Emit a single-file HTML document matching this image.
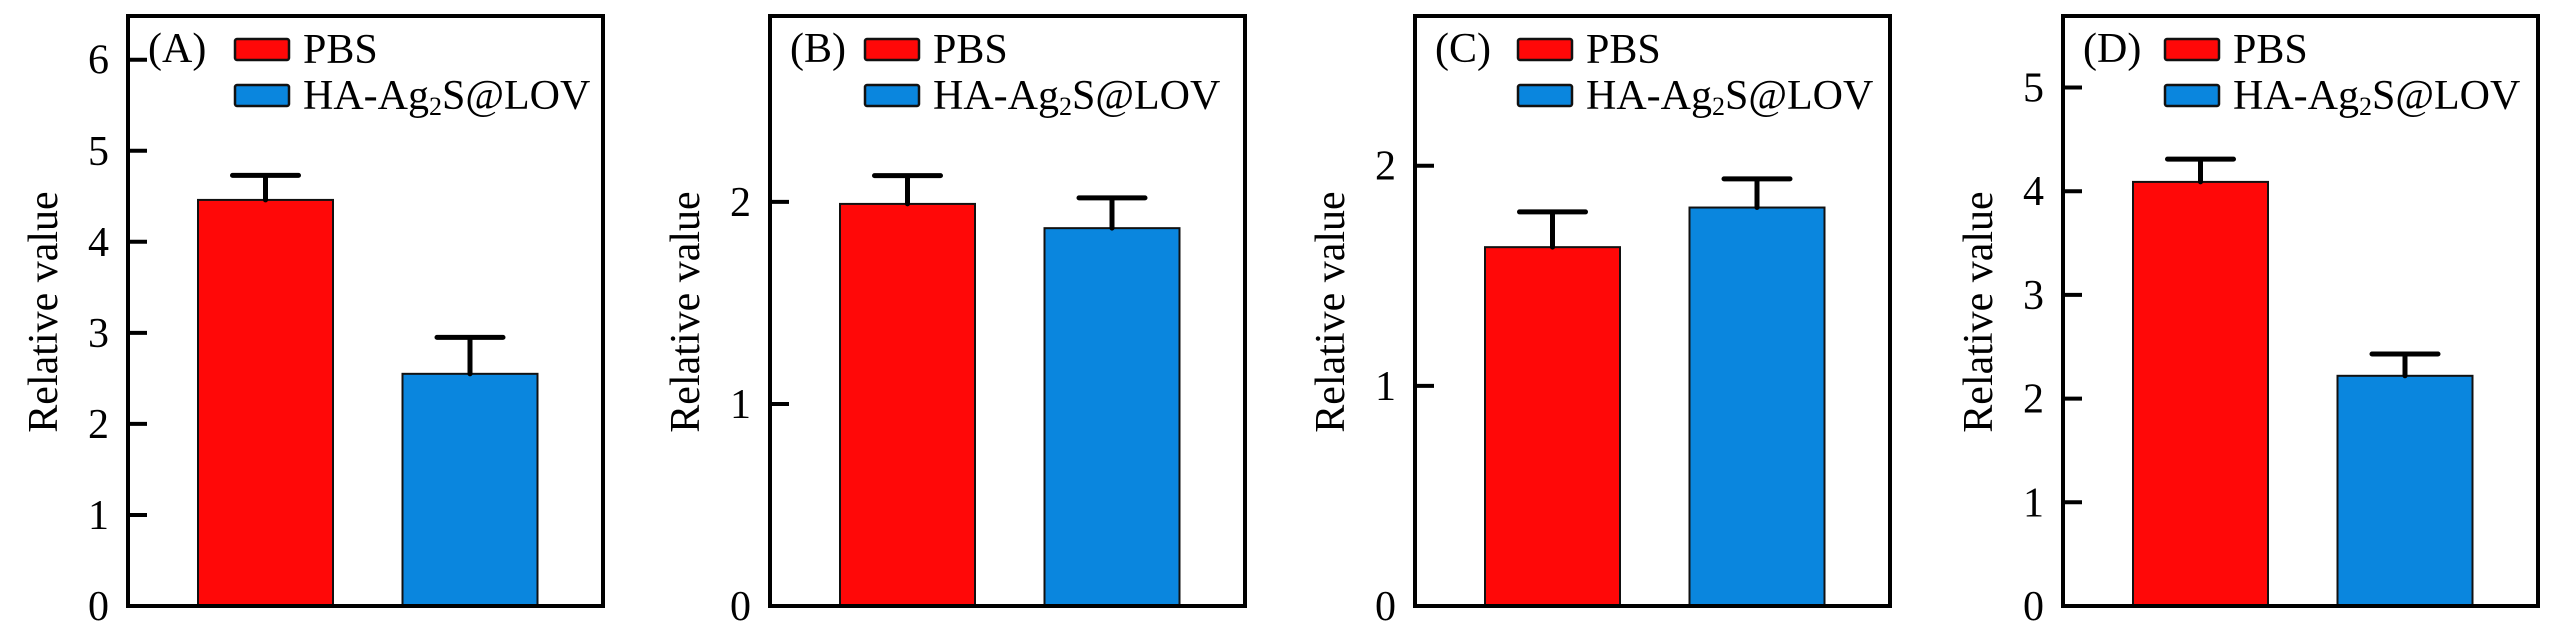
<!DOCTYPE html>
<html><head><meta charset="utf-8"><style>
html,body{margin:0;padding:0;background:#fff;}
svg{display:block;}
text{font-family:"Liberation Serif","Times New Roman",serif;fill:#000;}
</style></head><body>
<svg id="chart" width="2567" height="630" viewBox="0 0 2567 630" xmlns="http://www.w3.org/2000/svg"></svg>
<script>
const panelLabels = ["(A)", "(B)", "(C)", "(D)"];
const seriesNames = ["PBS", "HA-Ag2S@LOV"];
const pbsValues = [4.46, 1.99, 1.63, 4.09];
const pbsErrors = [0.27, 0.14, 0.16, 0.22];
const haValues = [2.55, 1.87, 1.81, 2.22];
const haErrors = [0.40, 0.15, 0.13, 0.21];
const yMaxes = [6.48, 2.92, 2.68, 5.69];
const yTicks = [[0,1,2,3,4,5,6],[0,1,2],[0,1,2],[0,1,2,3,4,5]];

const NS = "http://www.w3.org/2000/svg";
const svg = document.getElementById("chart");
const frameLefts = [128, 770, 1415, 2063];
const legendOff = [107, 95, 103, 102];
const W = 475, TOP = 16, BOT = 606;
const colors = ["#ff0808", "#0a86de"];

function mk(tag, attrs, parent) {
  const e = document.createElementNS(NS, tag);
  for (const k in attrs) e.setAttribute(k, attrs[k]);
  (parent || svg).appendChild(e);
  return e;
}

for (let p = 0; p < 4; p++) {
  const L = frameLefts[p];
  const g = mk("g", {});
  
  
  const y = v => BOT - v / yMaxes[p] * (BOT - TOP);
  const vals = [pbsValues[p], haValues[p]];
  const errs = [pbsErrors[p], haErrors[p]];
  const centers = [L + 137.5, L + 342];
  for (let s = 0; s < 2; s++) {
    const top = y(vals[s]);
    const bar = mk("rect", {x: centers[s] - 67.5, y: top, width: 135, height: BOT - top, fill: colors[s], stroke: "#111", "stroke-width": 2}, g);
    
    
    const ye = y(vals[s] + errs[s]);
    const eb = mk("path", {d: `M${centers[s]} ${top} V${ye} M${centers[s]-33} ${ye} H${centers[s]+33}`, stroke: "#000", "stroke-width": 5, fill: "none", "stroke-linecap": "round"}, g);
    
    
  }
  const fr = mk("rect", {x: L, y: TOP, width: W, height: BOT - TOP, fill: "none", stroke: "#000", "stroke-width": 4}, g);
  
  
  yTicks[p].forEach(t => {
    const ty = y(t);
    if (t > 0) {
      const tk = mk("line", {x1: L, x2: L + 19, y1: ty, y2: ty, stroke: "#000", "stroke-width": 4}, g);
      
      
    }
    const tl = mk("text", {x: L - 19, y: ty + 14, "font-size": 42, "text-anchor": "end"}, g);
    tl.textContent = t;
    
    
  });
  const yl = mk("text", {x: 0, y: 0, "font-size": 42, "text-anchor": "middle", transform: `translate(${L - 71},312) rotate(-90)`}, g);
  yl.textContent = "Relative value";
  
  
  const pl = mk("text", {x: L + 20, y: 62, "font-size": 42}, g);
  pl.textContent = panelLabels[p];
  
  
  for (let s = 0; s < 2; s++) {
    const lx = L + legendOff[p], ly = 39 + s * 46;
    const sw = mk("rect", {x: lx, y: ly, width: 54, height: 21, fill: colors[s], stroke: "#111", "stroke-width": 2.5, rx: 2}, g);
    
    
    const lt = mk("text", {x: lx + 68, y: ly + 24, "font-size": 42}, g);
    
    
    if (s === 0) lt.textContent = seriesNames[0];
    else {
      lt.appendChild(document.createTextNode("HA-Ag"));
      const sub = mk("tspan", {"font-size": 26, dy: 6}, lt);
      sub.textContent = "2";
      const rest = mk("tspan", {dy: -6}, lt);
      rest.textContent = "S@LOV";
    }
  }
}
</script>
</body></html>
